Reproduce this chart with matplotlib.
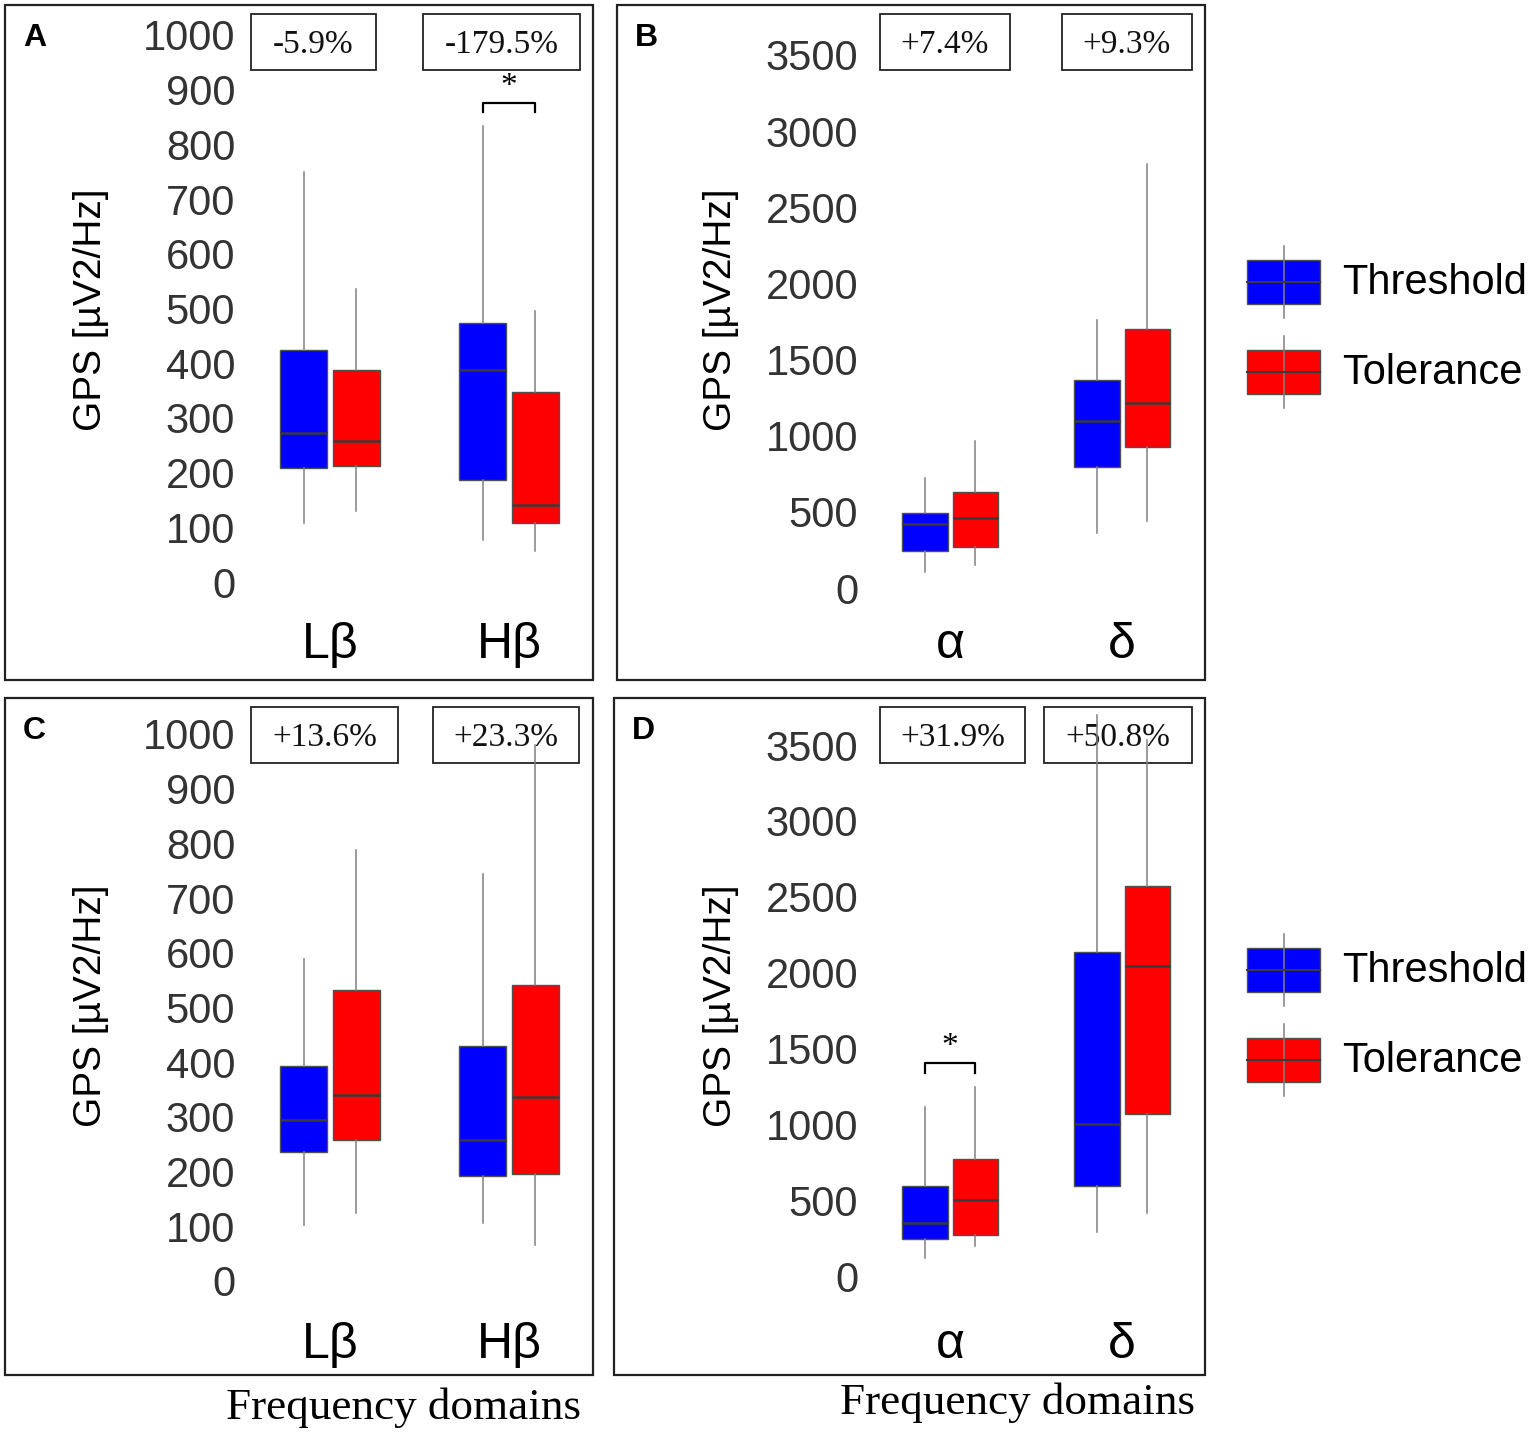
import matplotlib
matplotlib.use("Agg")
import matplotlib.pyplot as plt
from matplotlib.patches import Rectangle

# ---------------- data ----------------
beta_cats = ['Lβ', 'Hβ']
ad_cats = ['α', 'δ']
groups = ['Threshold', 'Tolerance']

# stats order: whislo, q1, med, q3, whishi
A_thr = [[108, 208, 272, 424, 750], [77, 186, 388, 473, 834]]
A_tol = [[130, 212, 258, 388, 536], [57, 108, 141, 347, 495]]
B_thr = [[105, 243, 420, 492, 722], [361, 795, 1097, 1366, 1760]]
B_tol = [[151, 269, 460, 630, 965], [440, 926, 1215, 1700, 2784]]
C_thr = [[102, 236, 294, 393, 589], [106, 192, 258, 430, 744]]
C_tol = [[124, 258, 340, 532, 788], [66, 196, 336, 541, 980]]
D_thr = [[119, 244, 349, 593, 1114], [290, 593, 1002, 2136, 3698]]
D_tol = [[198, 270, 501, 771, 1246], [415, 1068, 2043, 2571, 3533]]

A_pct = ['-5.9%', '-179.5%']
B_pct = ['+7.4%', '+9.3%']
C_pct = ['+13.6%', '+23.3%']
D_pct = ['+31.9%', '+50.8%']

beta_ticks = list(range(0, 1001, 100))
ad_ticks = list(range(0, 3501, 500))

# significance: (category index, bracket value)
A_sig = (1, 876)
D_sig = (0, 1404)

# ---------------- figure ----------------
W, H = 1534, 1436
fig = plt.figure(figsize=(W / 100, H / 100), dpi=100)
SANS = ['Liberation Sans', 'DejaVu Sans']
SERIF = ['Liberation Serif', 'DejaVu Serif']
plt.rcParams['font.family'] = SANS

bg = fig.add_axes([0, 0, 1, 1])
bg.set_xlim(0, W)
bg.set_ylim(H, 0)
bg.axis('off')

BLUE = '#0000FF'
RED = '#FF0000'


def px_axes(left, top, right, bottom):
    return fig.add_axes([left / W, 1 - bottom / H, (right - left) / W, (bottom - top) / H])


def stats(vals, label):
    return dict(whislo=vals[0], q1=vals[1], med=vals[2], q3=vals[3], whishi=vals[4],
                label=label, fliers=[])


def panel(frame, letter, ax_box, ylim, xlim, ticks, cats, thr, tol, pct, pct_boxes,
          ylab_x, sig=None, off=0.147, width=0.265):
    fx0, fy0, fx1, fy1 = frame
    bg.add_patch(Rectangle((fx0, fy0), fx1 - fx0, fy1 - fy0, fill=False,
                           ec='#222222', lw=1.6))
    bg.text(fx0 + 18, fy0 + 33, letter, fontsize=23, fontweight='bold',
            ha='left', va='center', family=SANS)
    for (bx0, bx1), t in zip(pct_boxes, pct):
        by0, by1 = fy0 + 9, fy0 + 65
        bg.add_patch(Rectangle((bx0, by0), bx1 - bx0, by1 - by0, fill=False,
                               ec='#222222', lw=1.3))
        bg.text((bx0 + bx1) / 2, (by0 + by1) / 2 + 3, t, fontsize=24, ha='center',
                va='center', family=SERIF, color='#111111')

    ax = px_axes(*ax_box)
    ax.set_facecolor('none')
    pos = list(range(1, len(cats) + 1))
    for vals, col, sgn in ((thr, BLUE, -1), (tol, RED, 1)):
        st = [stats(v, c) for v, c in zip(vals, cats)]
        ax.bxp(st, positions=[p + sgn * off for p in pos], widths=width,
               showfliers=False, showcaps=False, patch_artist=True,
               boxprops=dict(facecolor=col, edgecolor='#505050', linewidth=1.0),
               medianprops=dict(color='#3a3a3a', linewidth=1.8),
               whiskerprops=dict(color='#808080', linewidth=1.1),
               manage_ticks=False)
    ax.set_xlim(*xlim)
    ax.set_ylim(*ylim)
    ax.set_yticks(ticks)
    ax.set_yticklabels([str(t) for t in ticks])
    ax.set_xticks(pos)
    ax.set_xticklabels(cats)
    for s in ax.spines.values():
        s.set_visible(False)
    ax.tick_params(axis='y', length=0, pad=7, labelsize=30, labelcolor='#333333')
    ax.tick_params(axis='x', length=0, pad=9, labelsize=36, labelcolor='black')
    ax.set_ylabel('GPS [µV2/Hz]', fontsize=28)
    ax.yaxis.set_label_coords(ylab_x, 0.5)
    if sig is not None:
        ci, yv = sig
        x0 = pos[ci] - off
        x1 = pos[ci] + off
        dy = (ylim[1] - ylim[0]) * 0.016
        ax.plot([x0, x0, x1, x1], [yv - dy, yv, yv, yv - dy], color='black', lw=1.6)
        ax.text((x0 + x1) / 2, yv + dy * 0.1, '*', ha='center', va='bottom',
                fontsize=24, family=SERIF)
    return ax


# Panel A
panel((5, 5, 593, 680), 'A', (245, 10, 585, 610),
      ((582 - 610) / 0.547, (582 - 10) / 0.547), (0.525, 2.425), beta_ticks,
      beta_cats, A_thr, A_tol, A_pct, [(251, 376), (423, 580)], -0.40, A_sig)
# Panel B
panel((617, 5, 1205, 680), 'B', (868, 10, 1200, 610),
      ((588 - 610) / 0.1523, (588 - 10) / 0.1523), (0.523, 2.453), ad_ticks,
      ad_cats, B_thr, B_tol, B_pct, [(880, 1010), (1062, 1192)], -0.39)
# Panel C
panel((5, 698, 593, 1375), 'C', (245, 703, 585, 1309),
      ((1281 - 1309) / 0.547, (1281 - 703) / 0.547), (0.525, 2.425), beta_ticks,
      beta_cats, C_thr, C_tol, C_pct, [(251, 398), (433, 579)], -0.40)
# Panel D
panel((614, 698, 1205, 1375), 'D', (868, 703, 1200, 1309),
      ((1276 - 1309) / 0.1517, (1276 - 703) / 0.1517), (0.523, 2.453), ad_ticks,
      ad_cats, D_thr, D_tol, D_pct, [(880, 1025), (1044, 1192)], -0.39, D_sig)

# Legends
for ytop in (260, 948):
    for i, (g, col) in enumerate(zip(groups, (BLUE, RED))):
        y0 = ytop + i * 90
        cx = 1283.5
        bg.plot([cx, cx], [y0 - 14, y0 + 58], color='#808080', lw=1.1)
        bg.add_patch(Rectangle((1247, y0), 73, 44, fc=col, ec='#505050', lw=1.0))
        bg.plot([1247, 1320], [y0 + 22, y0 + 22], color='#3a3a3a', lw=1.5)
        bg.text(1342, y0 + 23, g, fontsize=30, ha='left', va='center', family=SANS)

bg.text(403, 1408, 'Frequency domains', fontsize=32.5, ha='center', va='center',
        family=SERIF)
bg.text(1018, 1403, 'Frequency domains', fontsize=32.5, ha='center', va='center',
        family=SERIF)

fig.savefig('out.png', dpi=100)
